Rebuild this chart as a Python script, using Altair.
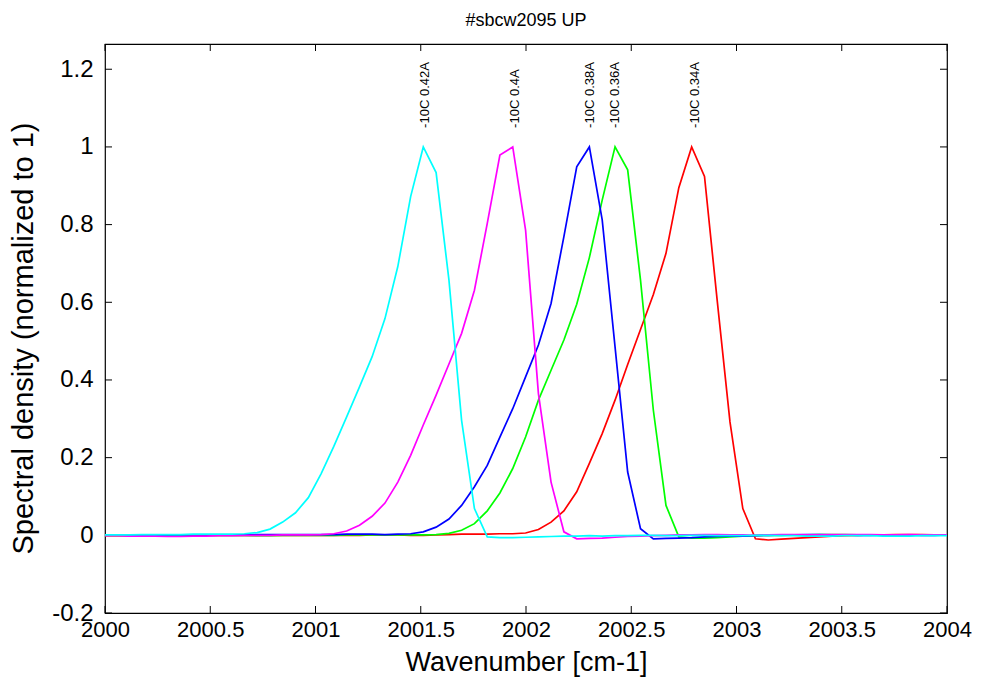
import altair as alt
import pandas as pd

# ---------------- data ----------------
wavenumber = [
    2000.000, 2000.055, 2000.116, 2000.176, 2000.237, 2000.298, 2000.359, 2000.419, 2000.480, 2000.541,
    2000.602, 2000.662, 2000.723, 2000.784, 2000.844, 2000.905, 2000.966, 2001.027, 2001.087, 2001.148,
    2001.209, 2001.269, 2001.330, 2001.391, 2001.452, 2001.512, 2001.573, 2001.634, 2001.694, 2001.755,
    2001.816, 2001.876, 2001.937, 2001.998, 2002.059, 2002.119, 2002.180, 2002.241, 2002.301, 2002.362,
    2002.423, 2002.483, 2002.544, 2002.605, 2002.665, 2002.726, 2002.787, 2002.848, 2002.908, 2002.969,
    2003.030, 2003.090, 2003.151, 2003.212, 2003.273, 2003.333, 2003.394, 2003.455, 2003.515, 2003.576,
    2003.637, 2003.698, 2003.758, 2003.819, 2003.880, 2003.940, 2004.000,
]

red_034 = [
    -0.001, -0.001, -0.001, 0.000, 0.000, 0.000, -0.001, -0.001, 0.000, 0.000,
    0.000, 0.000, 0.000, 0.000, 0.000, 0.000, 0.000, 0.000, 0.000, 0.000,
    0.000, 0.001, 0.001, 0.001, 0.000, 0.000, 0.001, 0.002, 0.003, 0.003,
    0.003, 0.004, 0.004, 0.006, 0.015, 0.034, 0.063, 0.112, 0.185, 0.262,
    0.348, 0.440, 0.530, 0.620, 0.726, 0.895, 1.000, 0.924, 0.606, 0.292,
    0.069, -0.009, -0.012, -0.010, -0.008, -0.006, -0.004, -0.002, -0.001, 0.000,
    0.001, 0.001, 0.002, 0.002, 0.002, 0.001, 0.001,
]

green_036 = [
    0.000, 0.000, 0.000, 0.000, 0.000, 0.000, 0.000, 0.000, 0.000, 0.000,
    0.000, 0.000, -0.001, -0.001, 0.000, 0.000, 0.000, 0.000, 0.000, 0.001,
    0.001, 0.001, 0.001, 0.001, 0.001, 0.001, 0.002, 0.005, 0.013, 0.030,
    0.063, 0.109, 0.172, 0.253, 0.348, 0.425, 0.503, 0.595, 0.715, 0.863,
    1.000, 0.941, 0.657, 0.322, 0.077, -0.004, -0.007, -0.007, -0.006, -0.004,
    -0.002, -0.001, 0.000, 0.000, 0.001, 0.001, 0.002, 0.002, 0.002, 0.001,
    0.001, 0.001, 0.000, 0.000, 0.001, 0.001, 0.001,
]

blue_038 = [
    0.001, 0.001, 0.001, 0.000, 0.000, 0.001, 0.001, 0.001, 0.001, 0.001,
    0.001, 0.001, 0.002, 0.002, 0.002, 0.002, 0.002, 0.002, 0.002, 0.003,
    0.003, 0.003, 0.002, 0.003, 0.004, 0.009, 0.021, 0.042, 0.077, 0.125,
    0.180, 0.253, 0.326, 0.408, 0.490, 0.597, 0.769, 0.949, 1.000, 0.812,
    0.485, 0.163, 0.017, -0.009, -0.008, -0.007, -0.006, -0.004, -0.003, -0.002,
    -0.002, -0.001, 0.000, 0.001, 0.001, 0.002, 0.002, 0.001, 0.001, 0.000,
    0.000, 0.001, 0.001, 0.001, 0.000, 0.000, 0.001,
]

magenta_040 = [
    -0.001, -0.001, -0.002, -0.002, -0.002, -0.003, -0.003, -0.002, -0.002, -0.001,
    -0.001, 0.000, 0.000, 0.000, 0.001, 0.001, 0.001, 0.002, 0.004, 0.011,
    0.026, 0.049, 0.083, 0.137, 0.206, 0.284, 0.361, 0.441, 0.520, 0.631,
    0.803, 0.979, 1.000, 0.786, 0.365, 0.137, 0.009, -0.009, -0.008, -0.007,
    -0.005, -0.003, -0.002, -0.001, 0.000, 0.001, 0.001, 0.002, 0.002, 0.001,
    0.001, 0.000, 0.001, 0.002, 0.002, 0.001, 0.001, 0.002, 0.002, 0.002,
    0.002, 0.001, 0.001, 0.002, 0.001, 0.001, 0.001,
]

cyan_042 = [
    0.001, 0.001, 0.001, 0.002, 0.002, 0.002, 0.002, 0.003, 0.003, 0.003,
    0.003, 0.004, 0.007, 0.016, 0.034, 0.058, 0.097, 0.159, 0.229, 0.305,
    0.382, 0.460, 0.558, 0.692, 0.872, 1.000, 0.934, 0.657, 0.296, 0.069,
    -0.004, -0.006, -0.006, -0.005, -0.004, -0.003, -0.002, -0.002, -0.001, -0.002,
    -0.001, -0.001, 0.000, 0.000, -0.001, -0.001, 0.000, 0.000, -0.001, -0.001,
    -0.001, 0.000, 0.000, -0.001, -0.001, -0.002, -0.002, -0.002, -0.001, -0.001,
    -0.001, -0.002, -0.002, -0.002, -0.001, -0.001, -0.001,
]

series_names = ["-10C 0.34A", "-10C 0.36A", "-10C 0.38A", "-10C 0.4A", "-10C 0.42A"]
series_values = [red_034, green_036, blue_038, magenta_040, cyan_042]
series_colors = ["#ff0000", "#00ff00", "#0000ff", "#ff00ff", "#00ffff"]

# peak annotation positions
label_x = [2002.803, 2002.423, 2002.304, 2001.948, 2001.519]
label_y = [1.049, 1.049, 1.049, 1.049, 1.049]

x_ticks = [2000, 2000.5, 2001, 2001.5, 2002, 2002.5, 2003, 2003.5, 2004]
y_ticks = [-0.2, 0, 0.2, 0.4, 0.6, 0.8, 1.0, 1.2]

title_text = "#sbcw2095 UP"
x_title = "Wavenumber [cm-1]"
y_title = "Spectral density (normalized to 1)"

# ---------------- layout ----------------
W, H = 842, 569
FONT = "Liberation Sans"
TICK = 7

x_scale = alt.Scale(domain=[2000, 2004], nice=False, zero=False)
y_scale = alt.Scale(domain=[-0.2, 1.265], nice=False, zero=False)

num_label = ("datum.value < 0 ? '-' + format(-datum.value, '.1~f') "
             ": format(datum.value, '.1~f')")

x_axis = alt.Axis(
    values=x_ticks, labelExpr=num_label, title=x_title,
    domain=False, ticks=False, grid=False,
    labelFont=FONT, labelFontSize=22, labelColor="#000000", labelPadding=6,
    labelFlush=False, labelOverlap=False,
    titleFont=FONT, titleFontSize=27, titleFontWeight="normal", titleColor="#000000",
    titleY=57, titleBaseline="alphabetic",
)
y_axis = alt.Axis(
    values=y_ticks, labelExpr=num_label, title=y_title,
    domain=False, ticks=False, grid=False,
    labelFont=FONT, labelFontSize=24, labelColor="#000000", labelPadding=12,
    labelFlush=False, labelOverlap=False,
    titleFont=FONT, titleFontSize=29, titleFontWeight="normal", titleColor="#000000",
    titleX=-82, titleY=294, titleAngle=270, titleAlign="center", titleBaseline="middle",
)

def xenc(field="wavenumber"):
    return alt.X(f"{field}:Q", scale=x_scale, axis=x_axis)

def yenc(field="density"):
    return alt.Y(f"{field}:Q", scale=y_scale, axis=y_axis)

layers = []
for name, vals, col in zip(series_names, series_values, series_colors):
    df = pd.DataFrame({"wavenumber": wavenumber, "density": vals})
    layers.append(
        alt.Chart(df).mark_line(color=col, strokeWidth=1.7, clip=True)
        .encode(x=xenc(), y=yenc())
    )

labels_df = pd.DataFrame({"wavenumber": label_x, "density": label_y, "label": series_names})
labels = alt.Chart(labels_df).mark_text(
    angle=270, align="left", baseline="middle", font=FONT, fontSize=13, color="#000000"
).encode(x=xenc(), y=yenc(), text="label:N")

# inward tick marks (MATLAB style) on all four sides
xt_df = pd.DataFrame({"wavenumber": x_ticks})
yt_df = pd.DataFrame({"density": y_ticks})
tick_bottom = alt.Chart(xt_df).mark_rule(color="black", strokeWidth=1).encode(
    x=xenc(), y=alt.value(H), y2=alt.value(H - TICK))
tick_top = alt.Chart(xt_df).mark_rule(color="black", strokeWidth=1).encode(
    x=xenc(), y=alt.value(0), y2=alt.value(TICK))
tick_left = alt.Chart(yt_df).mark_rule(color="black", strokeWidth=1).encode(
    y=yenc(), x=alt.value(0), x2=alt.value(TICK))
tick_right = alt.Chart(yt_df).mark_rule(color="black", strokeWidth=1).encode(
    y=yenc(), x=alt.value(W - TICK), x2=alt.value(W))

chart = alt.layer(
    tick_bottom, tick_top, tick_left, tick_right, *layers, labels
).properties(
    width=W, height=H,
    title=alt.TitleParams(title_text, font=FONT, fontSize=18, fontWeight="normal",
                          color="#000000", anchor="middle", baseline="alphabetic", offset=0),
    autosize=alt.AutoSizeParams(type="none"),
    padding={"left": 105, "top": 44, "right": 39, "bottom": 64},
    background="white",
).configure_view(
    stroke="#000000", strokeWidth=1.2
)

chart.save("out.html", embed_options={"renderer": "svg", "actions": False})
